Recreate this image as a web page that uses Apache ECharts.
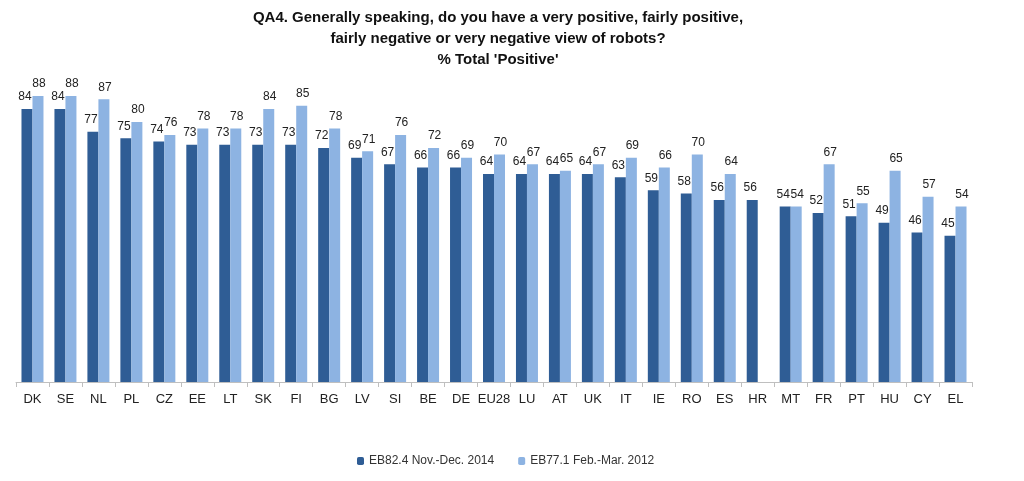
<!DOCTYPE html>
<html><head><meta charset="utf-8">
<script src="https://cdn.jsdelivr.net/npm/echarts@6/dist/echarts.min.js"></script>
<style>html,body{margin:0;padding:0;background:#fff}#c{width:1024px;height:481px}</style>
</head><body><div id="c"></div>
<script>
const categories = ['DK','SE','NL','PL','CZ','EE','LT','SK','FI','BG','LV','SI','BE','DE','EU28','LU','AT','UK','IT','IE','RO','ES','HR','MT','FR','PT','HU','CY','EL'];
const eb2014 = [84,84,77,75,74,73,73,73,73,72,69,67,66,66,64,64,64,64,63,59,58,56,56,54,52,51,49,46,45];
const eb2012 = [88,88,87,80,76,78,78,84,85,78,71,76,72,69,70,67,65,67,69,66,70,64,null,54,67,55,65,57,54];
const seriesNames = ['EB82.4 Nov.-Dec. 2014','EB77.1 Feb.-Mar. 2012'];

const chart = echarts.init(document.getElementById('c'));
const font = 'Liberation Sans, Arial, sans-serif';
chart.setOption({
  animation:false,
  title:{
    text:"QA4. Generally speaking, do you have a very positive, fairly positive,\nfairly negative or very negative view of robots?\n% Total 'Positive'",
    left:493, top:2, textAlign:'center',
    textStyle:{fontFamily:font, fontSize:15, fontWeight:'bold', color:'#111', lineHeight:21}
  },
  legend:{
    bottom:9, left:352, itemWidth:7, itemHeight:8, itemGap:24,
    textStyle:{fontFamily:font, fontSize:12, color:'#333'},
    data:seriesNames
  },
  grid:{left:16, right:52, top:57, bottom:99},
  xAxis:{
    type:'category', data:categories,
    axisLine:{lineStyle:{color:'#bfbfbf'}},
    axisTick:{show:true, length:5, lineStyle:{color:'#bfbfbf'}},
    axisLabel:{fontFamily:font, fontSize:13, color:'#222', margin:11, interval:0}
  },
  yAxis:{type:'value', min:0, max:100, show:false, splitLine:{show:false}},
  series:[
    {name:seriesNames[0], type:'bar', data:eb2014, barWidth:11, barGap:'0%',
     itemStyle:{color:'#2F5D95'},
     label:{show:true, position:'top', fontFamily:font, fontSize:12, color:'#222', distance:6, offset:[-2,0]}},
    {name:seriesNames[1], type:'bar', data:eb2012, barWidth:11,
     itemStyle:{color:'#8DB3E2'},
     label:{show:true, position:'top', fontFamily:font, fontSize:12, color:'#222', distance:6, offset:[1,0]}}
  ]
});
</script></body></html>
